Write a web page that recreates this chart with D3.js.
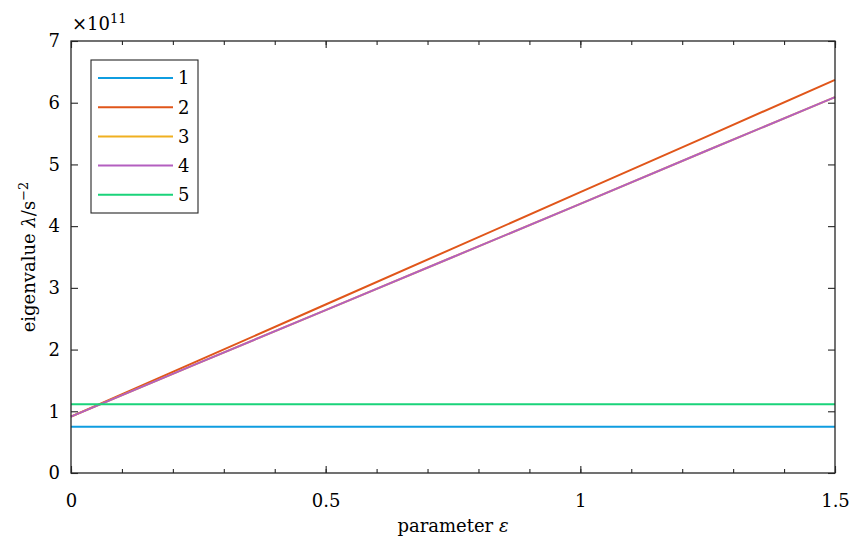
<!DOCTYPE html>
<html>
<head>
<meta charset="utf-8">
<script src="https://cdn.jsdelivr.net/npm/d3@7"></script>
<style>
  body { margin: 0; background: #fff; }
  text { font-family: "DejaVu Serif", serif; fill: #000; }
</style>
</head>
<body>
<div id="chart"></div>
<script>
// parameter epsilon (x values)
const epsValues = [0, 0.25, 0.5, 0.75, 1, 1.25, 1.5];
// eigenvalues in units of 1e11 s^-2
const series1 = [0.75, 0.75, 0.75, 0.75, 0.75, 0.75, 0.75];
const series2 = [0.913, 1.82, 2.73, 3.64, 4.55, 5.46, 6.37];
const series3 = [0.913, 1.78, 2.64, 3.50, 4.36, 5.23, 6.09];
const series4 = [0.913, 1.78, 2.64, 3.50, 4.36, 5.23, 6.09];
const series5 = [1.113, 1.113, 1.113, 1.113, 1.113, 1.113, 1.113];
const seriesNames = ["1", "2", "3", "4", "5"];
const seriesColors = ["#0f9de0", "#e0561a", "#f0b020", "#b35fc0", "#1ad37a"];
const xTicks = [0, 0.5, 1, 1.5];
const xMinorTicks = d3.range(0, 1.51, 0.1);
const yTicks = [0, 1, 2, 3, 4, 5, 6, 7];

const width = 851, height = 548;
const margin = {top: 41, right: 16, bottom: 75, left: 71};
const innerW = width - margin.left - margin.right;
const innerH = height - margin.top - margin.bottom;
const axisColor = "#262626";

const svg = d3.select("#chart").append("svg")
    .attr("width", width)
    .attr("height", height);

const g = svg.append("g").attr("transform", `translate(${margin.left},${margin.top})`);

const x = d3.scaleLinear().domain([0, 1.5]).range([0, innerW]);
const y = d3.scaleLinear().domain([0, 7]).range([innerH, 0]);

// lines
const allSeries = [series1, series2, series3, series4, series5];
const line = d3.line()
    .x((d, i) => x(epsValues[i]))
    .y(d => y(d));

g.selectAll("path.series")
    .data(allSeries)
    .enter().append("path")
    .attr("class", "series")
    .attr("d", line)
    .attr("fill", "none")
    .attr("stroke", (d, i) => seriesColors[i])
    .attr("stroke-width", 2);

// axes (ticks pointing inward, box on)
function styleAxis(sel) {
    sel.select(".domain").remove();
    sel.selectAll(".tick line").attr("stroke", axisColor).attr("stroke-width", 1.1);
    sel.selectAll(".tick text").attr("font-size", 18).attr("fill", "#000");
}

const xAxis = g.append("g")
    .attr("transform", `translate(0,${innerH})`)
    .call(d3.axisBottom(x).tickValues(xTicks).tickFormat(d3.format("")).tickSizeInner(-7).tickPadding(21));
styleAxis(xAxis);

const xMinor = g.append("g")
    .attr("transform", `translate(0,${innerH})`)
    .call(d3.axisBottom(x).tickValues(xMinorTicks).tickFormat("").tickSizeInner(-4));
styleAxis(xMinor);

const xTop = g.append("g")
    .call(d3.axisTop(x).tickValues(xTicks).tickFormat("").tickSizeInner(-7));
styleAxis(xTop);

const xTopMinor = g.append("g")
    .call(d3.axisTop(x).tickValues(xMinorTicks).tickFormat("").tickSizeInner(-4));
styleAxis(xTopMinor);

const yAxis = g.append("g")
    .call(d3.axisLeft(y).tickValues(yTicks).tickFormat(d3.format("d")).tickSizeInner(-7).tickPadding(11));
styleAxis(yAxis);

const yRight = g.append("g")
    .attr("transform", `translate(${innerW},0)`)
    .call(d3.axisRight(y).tickValues(yTicks).tickFormat("").tickSizeInner(-7));
styleAxis(yRight);

// box
g.append("rect")
    .attr("width", innerW)
    .attr("height", innerH)
    .attr("fill", "none")
    .attr("stroke", axisColor)
    .attr("stroke-width", 1.3);

// exponent label
const expo = svg.append("text")
    .attr("x", margin.left + 1)
    .attr("y", 30)
    .attr("font-size", 18);
expo.append("tspan").text("×10");
expo.append("tspan").attr("font-size", 13).attr("dy", -7).text("11");

// axis labels
svg.append("text")
    .attr("x", margin.left + innerW / 2)
    .attr("y", 532)
    .attr("text-anchor", "middle")
    .attr("font-size", 18)
    .html('parameter <tspan font-style="italic">ε</tspan>');

const yLabel = svg.append("text")
    .attr("transform", `translate(35,${margin.top + innerH / 2}) rotate(-90)`)
    .attr("text-anchor", "middle")
    .attr("font-size", 18);
yLabel.append("tspan").text("eigenvalue ");
yLabel.append("tspan").attr("font-style", "italic").text("λ");
yLabel.append("tspan").text("/s");
yLabel.append("tspan").attr("font-size", 13).attr("dy", -7).text("−2");

// legend
const legend = svg.append("g").attr("transform", "translate(91,60)");
legend.append("rect")
    .attr("width", 107)
    .attr("height", 153)
    .attr("fill", "#fff")
    .attr("stroke", axisColor)
    .attr("stroke-width", 1.1);

const legendItems = legend.selectAll("g.item")
    .data(seriesNames)
    .enter().append("g")
    .attr("class", "item")
    .attr("transform", (d, i) => `translate(0,${18 + i * 29.2})`);

legendItems.append("line")
    .attr("x1", 7)
    .attr("x2", 82)
    .attr("stroke", (d, i) => seriesColors[i])
    .attr("stroke-width", 2);

legendItems.append("text")
    .attr("x", 87)
    .attr("dy", "0.35em")
    .attr("font-size", 18)
    .text(d => d);
</script>
</body>
</html>
